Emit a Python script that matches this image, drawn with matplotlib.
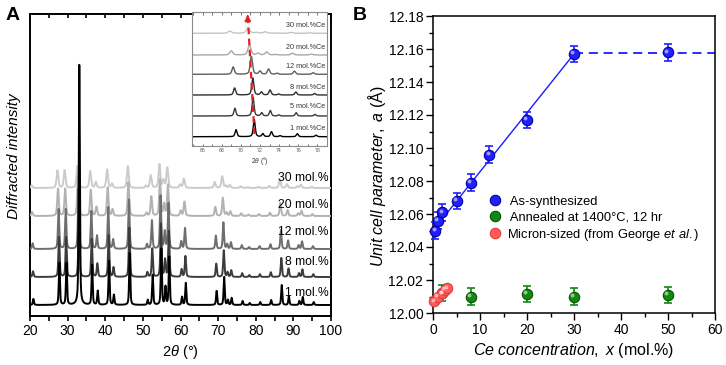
import numpy as np
import matplotlib
matplotlib.use("Agg")
import matplotlib.pyplot as plt
import matplotlib.transforms as mtransforms
from matplotlib.ticker import MultipleLocator
from matplotlib.lines import Line2D

plt.rcParams['font.family'] = ['Liberation Sans', 'DejaVu Sans']
plt.rcParams['mathtext.fontset'] = 'custom'
plt.rcParams['mathtext.rm'] = 'Liberation Sans'
plt.rcParams['mathtext.it'] = 'Liberation Sans:italic'
plt.rcParams['mathtext.bf'] = 'Liberation Sans:bold'

# ---------------- Panel A data (XRD patterns) ----------------
peak_pos = [20.9, 27.8, 29.7, 33.1, 36.5, 38.0, 41.0, 42.3, 46.5, 51.3, 52.6, 54.9,
            56.0, 57.0, 60.4, 61.4, 69.6, 71.6, 72.6, 73.6, 76.5, 78.4, 81.2, 84.1,
            86.9, 88.8, 91.6, 92.5, 95.4]
peak_int = [6, 42, 42, 60, 40, 14, 44, 10, 52, 5, 30, 56,
            18, 48, 8, 22, 14, 28, 5, 7, 4, 2, 3, 5,
            20, 9, 4, 8, 3]
main_peak_pos = 33.1
samples = ['1 mol.%', '8 mol.%', '12 mol.%', '20 mol.%', '30 mol.%']
main_peak_height = [240, 60, 60, 40, 22]
sample_scale = [1.0, 0.95, 0.95, 0.65, 0.42]
sample_shift = [0.0, -0.1, -0.2, -0.35, -0.5]
sample_width = [0.35, 0.38, 0.4, 0.48, 0.55]
sample_offset = [11, 39, 67, 100, 128]
sample_color = ['#000000', '#3c3c3c', '#6e6e6e', '#b2b2b2', '#cbcbcb']
label_y = [23, 54, 84, 111, 138]

# inset data
in_samples = ['1 mol.%Ce', '5 mol.%Ce', '8 mol.%Ce', '12 mol.%Ce', '20 mol.%Ce', '30 mol.%Ce']
in_peak_pos = [69.5, 71.4, 72.3, 73.2, 74.1, 75.9, 77.85]
in_peak_int = [7, 17, 3, 5, 1, 3, 1.5]
in_scale = [1.0, 1.1, 1.0, 1.05, 0.6, 0.3]
in_shift = [0.0, -0.12, -0.15, -0.3, -0.5, -0.65]
in_width = [0.24, 0.24, 0.26, 0.29, 0.36, 0.44]
in_offset = [9.3, 30, 51, 71.7, 91, 112.7]
in_color = ['#000000', '#3a3a3a', '#2e2e2e', '#5e5e5e', '#a8a8a8', '#c4c4c4']
in_label_y = [18, 39, 58.3, 79.3, 99, 121]
arrow_x = [71.42, 70.72]
arrow_y = [12, 131]

# ---------------- Panel B data ----------------
as_x = [0.5, 1, 2, 5, 8, 12, 20, 30, 50]
as_y = [12.050, 12.056, 12.061, 12.068, 12.079, 12.096, 12.117, 12.157, 12.158]
as_err = [0.005] * len(as_x)
an_x = [2, 8, 20, 30, 50]
an_y = [12.012, 12.010, 12.0115, 12.010, 12.011]
an_err = [0.005] * len(an_x)
mi_x = [0.3, 1.0, 2.0, 2.5, 3.0]
mi_y = [12.007, 12.010, 12.012, 12.014, 12.015]
fit_x = [0.3, 30]
fit_y = [12.051, 12.157]
plateau_x = [30, 60]
plateau_y = [12.1575, 12.1575]
legend_labels = [' As-synthesized', ' Annealed at 1400°C, 12 hr',
                 r'Micron-sized (from George $\it{et\ al.}$)']


def profile(x, pos, heights, width):
    y = np.zeros_like(x)
    for p, h in zip(pos, heights):
        d = (x - p) / (width / 2)
        lor = 1.0 / (1.0 + d ** 2)
        gau = np.exp(-np.log(2) * d ** 2)
        y += h * (0.5 * lor + 0.5 * gau)
    return y


fig = plt.figure(figsize=(7.26, 3.65), dpi=100)

# ---------------- Panel A ----------------
axA = fig.add_axes([30 / 726, 1 - 316 / 365, 301 / 726, 302 / 365])
x = np.arange(20, 100.001, 0.02)
for i in reversed(range(len(samples))):
    heights = [h * sample_scale[i] for h in peak_int]
    pos = [p + sample_shift[i] for p in peak_pos]
    heights[peak_pos.index(main_peak_pos)] = main_peak_height[i]
    y = profile(x, pos, heights, sample_width[i]) + sample_offset[i]
    axA.plot(x, y, color=sample_color[i], lw=1.4, zorder=2 + (len(samples) - i))
    axA.text(99.3, label_y[i], samples[i], ha='right', va='center', fontsize=8.7, zorder=10)
axA.set_xlim(20, 100)
axA.set_ylim(0, 302)
axA.set_yticks([])
axA.xaxis.set_major_locator(MultipleLocator(10))
axA.xaxis.set_minor_locator(MultipleLocator(5))
axA.tick_params(axis='x', which='both', direction='out', length=3.5, width=1.2,
                labelsize=10, pad=2, top=False)
secA = axA.secondary_xaxis('top')
secA.xaxis.set_major_locator(MultipleLocator(5))
secA.tick_params(axis='x', direction='in', length=3, width=1.2, labeltop=False)
secA.spines['top'].set_visible(False)
for s in axA.spines.values():
    s.set_linewidth(1.4)
axA.set_xlabel(r'2$\it{θ}$ (°)', fontsize=10.5, labelpad=4)
axA.set_ylabel('Diffracted intensity', style='italic', fontsize=11)
axA.yaxis.set_label_coords(-0.03, 0.53)

# inset
axI = fig.add_axes([192 / 726, 1 - 146 / 365, 135 / 726, 134 / 365])
axI.set_facecolor('white')
xi = np.arange(64.9, 79.0, 0.01)
for i in range(len(in_samples)):
    heights = [h * in_scale[i] for h in in_peak_int]
    pos = [p + in_shift[i] for p in in_peak_pos]
    y = profile(xi, pos, heights, in_width[i]) + in_offset[i]
    axI.plot(xi, y, color=in_color[i], lw=1.0)
    axI.text(78.8, in_label_y[i], in_samples[i], ha='right', va='center', fontsize=5.2,
             color='#333333')
axI.plot(arrow_x, arrow_y, color='#e02222', lw=1.6, dashes=(3, 2), zorder=5)
axI.annotate('', xy=(arrow_x[1] - 0.02, arrow_y[1] + 3), xytext=(arrow_x[1], arrow_y[1] - 4),
             arrowprops=dict(arrowstyle='-|>,head_length=0.35,head_width=0.18',
                             color='#e02222', lw=1.2), zorder=6)
axI.set_xlim(64.9, 79.0)
axI.set_ylim(0, 134)
axI.set_yticks([])
axI.set_xticks([66, 68, 70, 72, 74, 76, 78])
axI.xaxis.set_minor_locator(MultipleLocator(1))
axI.tick_params(axis='x', which='both', direction='in', length=1.8, width=0.6,
                labelsize=3.8, pad=1.5, top=True, colors='#555555')
for s in axI.spines.values():
    s.set_linewidth(0.8)
    s.set_color('#8a8a8a')
axI.set_xlabel(r'2$\it{θ}$ (°)', fontsize=4.8, labelpad=1.5, color='#333333')

# ---------------- Panel B ----------------
axB = fig.add_axes([433 / 726, 1 - 313 / 365, 282 / 726, 297 / 365])
hl = mtransforms.ScaledTranslation(-1.1 / 72, 1.1 / 72, fig.dpi_scale_trans)

axB.plot(fit_x, fit_y, color='#1a1aff', lw=1.0, zorder=2)
axB.plot(plateau_x, plateau_y, color='#1a1aff', lw=1.3, dashes=(5, 3.2), zorder=2,
         clip_on=False)

styles = [('#2020ff', '#0000a0'), ('#118811', '#005500'), ('#ff5c5c', '#e03a3a')]


def balls(xv, yv, err, col, edge):
    if err is not None:
        axB.errorbar(xv, yv, yerr=err, fmt='none', ecolor=col, elinewidth=1.2,
                     capsize=3, capthick=1.2, zorder=3, clip_on=False)
    axB.plot(xv, yv, 'o', ms=7.5, mfc=col, mec=edge, mew=0.8, zorder=4, clip_on=False)
    axB.plot(xv, yv, 'o', ms=2.8, mfc='white', mec='none', alpha=0.55, zorder=5,
             clip_on=False, transform=axB.transData + hl)


balls(an_x, an_y, an_err, *styles[1])
balls(as_x, as_y, as_err, *styles[0])
balls(mi_x, mi_y, None, *styles[2])

axB.set_xlim(0, 60)
axB.set_ylim(12.00, 12.18)
axB.xaxis.set_major_locator(MultipleLocator(10))
axB.xaxis.set_minor_locator(MultipleLocator(5))
axB.yaxis.set_major_locator(MultipleLocator(0.02))
axB.yaxis.set_minor_locator(MultipleLocator(0.01))
axB.yaxis.set_major_formatter(matplotlib.ticker.FormatStrFormatter('%.2f'))
axB.tick_params(which='major', direction='out', length=5, width=1.0, labelsize=10, pad=2)
axB.tick_params(which='minor', direction='out', length=3, width=1.0)
for s in axB.spines.values():
    s.set_linewidth(1.1)
axB.set_xlabel(r'$\it{Ce\ concentration,\ x}$ (mol.%)', fontsize=11.5, labelpad=3)
axB.set_ylabel(r'$\it{Unit\ cell\ parameter,\ a}$ (Å)', fontsize=11.5)
axB.yaxis.set_label_coords(-0.16, 0.46)

handles = [Line2D([], [], ls='none', marker='o', ms=7.5, mfc=c, mec=e, mew=0.8)
           for c, e in styles]
leg = axB.legend(handles, legend_labels, loc='upper left', bbox_to_anchor=(0.2, 0.395),
                 frameon=False, fontsize=9.3, handlelength=0.8, handletextpad=0.6,
                 labelspacing=0.28, borderpad=0.0, borderaxespad=0)

fig.text(6 / 726, 1 - 7 / 365, 'A', fontsize=14, fontweight='bold', va='top', ha='left')
fig.text(353 / 726, 1 - 7 / 365, 'B', fontsize=14, fontweight='bold', va='top', ha='left')

fig.savefig('out.png', dpi=100)
